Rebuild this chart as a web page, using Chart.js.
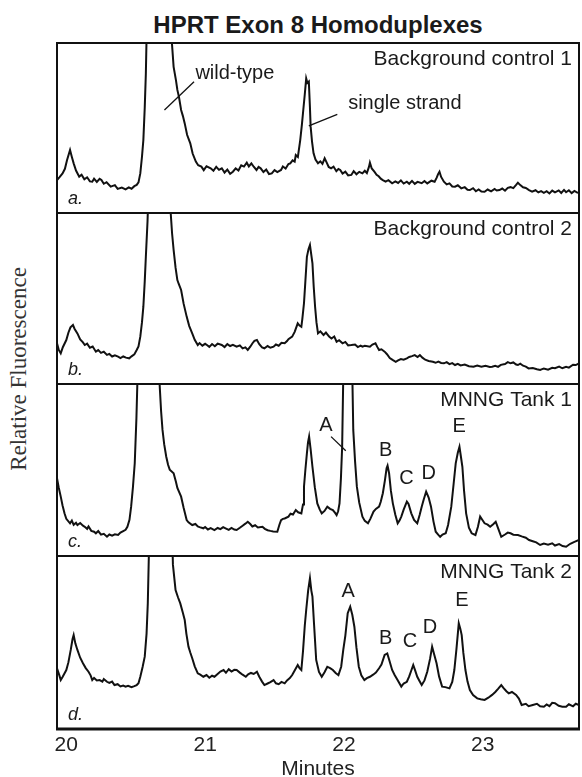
<!DOCTYPE html>
<html>
<head>
<meta charset="utf-8">
<title>HPRT Exon 8 Homoduplexes</title>
<script src="https://cdn.jsdelivr.net/npm/chart.js@4.4.1/dist/chart.umd.min.js"></script>
<style>
  body { margin: 0; background: #fff; }
  #wrap { position: relative; width: 582px; height: 777px; overflow: hidden; background: #fff;
          font-family: "Liberation Sans", Arial, sans-serif; color: #1a1a1a; }
  #title { position: absolute; left: 57px; width: 522px; top: 11px; line-height: 28px;
           text-align: center; font-weight: bold; font-size: 24px; }
  #ylab { position: absolute; left: 19px; top: 369px; transform: translate(-50%, -50%) rotate(-90deg);
          font-family: "Liberation Serif", "Times New Roman", serif; font-size: 23px; white-space: nowrap; color: #333; }
  .panel { position: absolute; left: 0; }
</style>
</head>
<body>
<div id="wrap">
  <div id="title">HPRT Exon 8 Homoduplexes</div>
  <div id="ylab">Relative Fluorescence</div>
  <canvas id="pa" class="panel" width="582" height="174" style="top:41px"></canvas>
  <canvas id="pb" class="panel" width="582" height="175" style="top:211px"></canvas>
  <canvas id="pc" class="panel" width="582" height="176" style="top:382px"></canvas>
  <canvas id="pd" class="panel" width="582" height="228" style="top:554px"></canvas>
</div>
<script>
// electropherogram traces (minutes, relative signal 0-100 = panel height)

const xTicks = [20, 21, 22, 23];
const xMin = 19.933, xMax = 23.693;

const panelTitles = ["Background control 1", "Background control 2", "MNNG Tank 1", "MNNG Tank 2"];
const panelLetters = ["a.", "b.", "c.", "d."];

// a. background control 1
const timeA = [19.933,19.95,19.973,19.99,20.005,20.027,20.04,20.053,20.07,20.093,20.11,20.13,20.15,20.17,20.187,20.2,20.22,20.24,20.253,20.27,20.29,20.32,20.35,20.37,20.4,20.427,20.45,20.47,20.49,20.507,20.52,20.533,20.545,20.555,20.565,20.573,20.587,20.67,20.745,20.752,20.773,20.79,20.8,20.812,20.827,20.84,20.853,20.87,20.893,20.91,20.933,20.95,20.973,20.99,21.01,21.04,21.06,21.08,21.1,21.12,21.14,21.16,21.18,21.2,21.22,21.24,21.26,21.28,21.3,21.315,21.333,21.35,21.37,21.385,21.4,21.42,21.44,21.46,21.48,21.5,21.52,21.547,21.56,21.58,21.6,21.613,21.63,21.645,21.653,21.668,21.685,21.697,21.707,21.718,21.728,21.737,21.747,21.755,21.76,21.77,21.781,21.795,21.813,21.83,21.845,21.861,21.875,21.89,21.907,21.925,21.945,21.96,21.973,21.99,22.01,22.03,22.053,22.07,22.09,22.11,22.133,22.15,22.165,22.18,22.187,22.2,22.219,22.235,22.25,22.265,22.28,22.3,22.32,22.347,22.37,22.39,22.41,22.43,22.453,22.47,22.49,22.51,22.53,22.56,22.58,22.6,22.63,22.653,22.668,22.678,22.688,22.7,22.72,22.74,22.76,22.78,22.8,22.82,22.845,22.87,22.89,22.907,22.93,22.95,22.97,22.99,23.013,23.035,23.06,23.085,23.1,23.12,23.14,23.16,23.18,23.2,23.22,23.24,23.253,23.27,23.29,23.31,23.333,23.355,23.38,23.4,23.42,23.44,23.46,23.48,23.5,23.52,23.547,23.565,23.585,23.6,23.62,23.64,23.66,23.68,23.693];
const fluorA = [19.4,21,23.3,26,31,37.1,33,29.2,25,21.4,22.5,19.8,21,18.6,18.4,20.2,18.3,20.1,19.4,17.2,18.1,15.5,16.4,14.2,15,13.9,15.1,14.3,15.8,16.5,18,23.3,33,42.9,62,82,140,300,140,110,86,78,72.4,68,60.6,57,52.7,46,41,35,30.2,28.1,27.3,25.2,27.5,26.3,24.8,27.2,25.4,26.3,23.8,25.5,23.1,24.3,26.2,25,28.1,27.3,29.6,27.4,29.2,27.2,25.3,27.1,26.3,24.1,25.6,22.9,23.3,25.2,24.1,25.3,27.4,26.2,28.8,29.2,31,30.2,34.1,33,42.9,52,60.6,70,79.2,76.5,77.3,62,50.8,42,35.1,31.5,29.2,30.4,28.9,32.2,29.8,27.1,26.3,27.3,24.6,25.9,25.3,23.2,24.3,22.1,22.4,24.6,22.8,24.2,23.3,24.8,23.5,27.1,29.6,26.2,24.3,22.5,21.6,20.2,19.4,18.5,19.3,17.5,18.6,17.7,19.2,17.3,18.4,17.2,18.9,17.1,18.3,17.5,18.8,17.4,19,18.4,20.8,22.9,24.3,21.2,18.4,16.8,17.4,15.6,15.5,16.3,14.5,15.2,13.7,13.5,14.6,12.8,13.9,12.6,12.5,13.8,12.7,14.1,13.2,13.5,14.4,13.1,14.8,15.2,14.6,16.5,17.8,16.4,15.1,14.7,13.5,12.6,13.4,12.1,12.9,11.9,12.8,11.5,13.2,12.1,13.3,11.8,13.6,12.2,13.4,11.7,13,12,11.9];

// b. background control 2
const timeB = [19.933,19.945,19.96,19.975,20,20.015,20.03,20.048,20.06,20.08,20.1,20.12,20.133,20.15,20.17,20.19,20.213,20.23,20.25,20.27,20.293,20.31,20.33,20.35,20.373,20.39,20.41,20.43,20.453,20.47,20.49,20.507,20.52,20.533,20.545,20.555,20.565,20.573,20.585,20.595,20.67,20.74,20.752,20.762,20.773,20.787,20.8,20.81,20.827,20.845,20.867,20.885,20.907,20.925,20.947,20.96,20.98,21,21.013,21.03,21.05,21.07,21.09,21.12,21.14,21.16,21.18,21.2,21.227,21.25,21.27,21.29,21.307,21.325,21.34,21.355,21.373,21.39,21.41,21.427,21.45,21.47,21.493,21.51,21.53,21.55,21.573,21.59,21.6,21.627,21.645,21.667,21.68,21.693,21.7,21.712,21.722,21.733,21.745,21.755,21.764,21.773,21.782,21.792,21.802,21.813,21.83,21.853,21.87,21.893,21.91,21.93,21.947,21.965,21.99,22.01,22.03,22.053,22.08,22.1,22.12,22.133,22.15,22.187,22.205,22.227,22.24,22.253,22.27,22.293,22.31,22.33,22.35,22.373,22.39,22.41,22.43,22.453,22.47,22.49,22.51,22.53,22.547,22.565,22.585,22.61,22.64,22.66,22.68,22.7,22.72,22.74,22.76,22.78,22.8,22.82,22.84,22.87,22.9,22.933,22.96,22.99,23.02,23.05,23.067,23.09,23.11,23.13,23.16,23.18,23.2,23.22,23.24,23.253,23.27,23.29,23.31,23.33,23.36,23.39,23.413,23.44,23.47,23.5,23.52,23.55,23.573,23.6,23.62,23.65,23.67,23.693];
const fluorB = [23.8,20.1,17.9,21.5,25.7,30,33.1,34.5,32.2,29.6,26.1,24.3,22.8,23.6,21.2,21.9,18.9,19.8,18.2,18.9,17,17.6,16.1,16.8,16,15.2,16.1,15.4,15,16.2,17.3,19.9,22,27.7,36,45.2,60,74.4,95,120,300,130,100,88,78.4,68,60.8,58.5,55,47,39.4,34,29.6,25.8,22.8,23.9,22.4,23.5,22.8,21.7,23.4,22.1,23.6,22.8,21.6,23.3,22.2,22.9,21.8,22.6,20.8,21.4,19.9,21.8,23.7,25.2,25.7,23.3,21.4,20.9,22.2,21.2,21.8,23.1,22.4,24.1,23.8,25.1,26.2,27.7,30.5,35.5,34.2,33.5,38,47.2,60,74.4,79,81.3,76,70.6,57,45.2,36,29.6,30.8,28.7,30.1,27.7,26.6,27.8,24.7,25.6,23.8,24.6,22.6,22.8,23.1,21.6,22.4,21.8,22.3,21.8,23.1,23.8,21.7,19.9,20.3,18.9,17.4,15.2,14.1,13,13.8,14.6,14.2,15,15.8,16.3,16.9,15.8,16.9,15.4,14.2,13.5,13,12.4,13.1,12.3,12.1,12.8,11.6,12.2,11.1,11.8,10.9,11.4,10.4,10.1,10.8,10.1,10.6,9.9,10.1,10.6,10,11.2,11.7,12.8,12.1,12.6,11.4,11.1,11.9,10.7,10.2,9.1,9.4,8.6,8.2,9.1,8.4,9.5,9.2,10.2,9.2,10.1,9.6,11.3,11.1,12.1];

// c. MNNG tank 1
const timeC = [19.933,19.945,19.96,19.973,19.987,20,20.027,20.04,20.053,20.07,20.08,20.1,20.12,20.133,20.15,20.16,20.18,20.2,20.213,20.23,20.25,20.27,20.293,20.31,20.33,20.35,20.373,20.39,20.41,20.427,20.44,20.455,20.467,20.48,20.493,20.505,20.515,20.62,20.665,20.672,20.683,20.693,20.705,20.72,20.733,20.745,20.773,20.79,20.8,20.827,20.845,20.867,20.88,20.907,20.93,20.947,20.96,20.987,21,21.02,21.04,21.067,21.09,21.11,21.13,21.147,21.17,21.19,21.21,21.227,21.25,21.27,21.29,21.307,21.325,21.34,21.36,21.38,21.413,21.43,21.45,21.47,21.49,21.52,21.535,21.547,21.56,21.573,21.6,21.615,21.633,21.653,21.67,21.693,21.705,21.712,21.722,21.733,21.741,21.749,21.76,21.773,21.79,21.808,21.825,21.84,21.86,21.88,21.9,21.92,21.935,21.947,21.958,21.968,21.978,21.987,22,22.04,22.055,22.067,22.08,22.093,22.11,22.133,22.15,22.173,22.19,22.213,22.23,22.253,22.265,22.28,22.295,22.307,22.314,22.325,22.338,22.352,22.37,22.387,22.4,22.413,22.43,22.453,22.465,22.485,22.505,22.528,22.545,22.56,22.575,22.592,22.61,22.627,22.645,22.661,22.68,22.693,22.71,22.733,22.75,22.773,22.79,22.805,22.82,22.832,22.842,22.853,22.865,22.88,22.9,22.92,22.947,22.965,22.981,22.995,23.013,23.035,23.053,23.075,23.093,23.11,23.133,23.16,23.18,23.2,23.22,23.253,23.28,23.31,23.333,23.36,23.385,23.413,23.44,23.47,23.5,23.52,23.55,23.575,23.6,23.63,23.66,23.693];
const fluorC = [45.2,40,34.5,29.4,24.8,21.6,19,20.6,18.1,19.3,18,19.2,17.6,17,15.8,17.2,14.6,14.1,13.2,14.5,12.4,12.9,11.2,12.5,11.8,12.6,12.2,13.6,14.5,15.2,17,21,28.7,40,53.9,80,110,300,120,100,84,73.3,65,57.7,53,50.2,48.1,43,39.6,34.5,28,20.9,19.6,18,18.6,17.2,16.8,16.1,16.9,15.4,16.2,15.1,16.3,15.6,16.8,16.1,15.2,16.3,15.4,15.1,16.4,17.6,18.8,19.9,18.6,17.2,17.9,16.6,17,15.8,15,14.6,14.3,14.1,18.2,20.9,21.6,21.8,22.9,24.6,24.1,26.7,25.4,24.8,30,40.3,50,59.7,66,69.4,62,51.9,40,30.6,27.1,24.8,26.2,28.7,27.4,26.7,25.2,23.8,26,30.6,45,63.5,130,300,130,73.3,55,40.3,31,22.9,20.4,19,21.6,25.8,27.4,28.7,31.5,36.5,44,51,52.5,48.1,38,30.6,24,19,20.6,22.9,27,31.6,30.2,24.8,21,19,23.8,28.7,33,37.4,34,28.7,20,14.1,12.3,11.2,12.5,13.2,18,28.7,42,53.9,60,63.5,58,51.9,38,24.8,16.5,13.2,12.2,17,22.9,21.2,19,18.2,17,18.5,19.9,16.2,11.2,12.5,13.6,13.2,12.4,12.2,11.4,10.6,9.3,8.6,7.9,6.4,7.2,6.6,7.4,6.1,6.9,5.8,5.4,7.1,8.2,9.3];

// d. MNNG tank 2
const timeD = [19.933,19.95,19.96,19.973,20,20.015,20.032,20.045,20.053,20.065,20.08,20.1,20.12,20.14,20.16,20.175,20.187,20.2,20.22,20.24,20.26,20.27,20.293,20.31,20.33,20.347,20.37,20.39,20.41,20.427,20.445,20.47,20.49,20.507,20.52,20.533,20.55,20.565,20.578,20.587,20.6,20.68,20.76,20.768,20.787,20.805,20.821,20.84,20.853,20.865,20.88,20.893,20.907,20.925,20.947,20.965,20.987,21.01,21.03,21.05,21.067,21.09,21.11,21.133,21.15,21.17,21.19,21.21,21.227,21.25,21.27,21.293,21.31,21.33,21.35,21.373,21.39,21.41,21.427,21.45,21.47,21.493,21.51,21.53,21.55,21.573,21.59,21.61,21.627,21.645,21.667,21.68,21.693,21.705,21.718,21.728,21.742,21.755,21.765,21.773,21.785,21.8,21.82,21.84,21.86,21.88,21.9,21.92,21.94,21.96,21.98,21.995,22.01,22.027,22.045,22.06,22.075,22.09,22.107,22.125,22.147,22.165,22.187,22.21,22.23,22.253,22.27,22.293,22.312,22.325,22.347,22.365,22.385,22.413,22.43,22.453,22.47,22.485,22.499,22.512,22.528,22.545,22.56,22.58,22.6,22.62,22.635,22.65,22.667,22.685,22.707,22.73,22.76,22.78,22.795,22.81,22.827,22.838,22.848,22.86,22.875,22.89,22.907,22.93,22.96,22.985,23.013,23.04,23.067,23.09,23.11,23.133,23.15,23.17,23.187,23.21,23.24,23.26,23.28,23.31,23.33,23.36,23.39,23.413,23.44,23.46,23.48,23.5,23.52,23.547,23.573,23.6,23.62,23.65,23.67,23.693];
const fluorD = [35.1,31,28.3,30.1,34.1,38.5,45.7,52,54.3,49.5,45.7,41.2,38,35.2,33.1,31,28.3,29.5,28.1,28.3,27.4,28.9,27.3,26.6,27.4,25.4,25.9,24.6,25.1,24.5,25,24.2,24.8,25.4,26.4,30.2,36,41.8,55,72.6,120,300,120,95,80.3,76,72.6,67,63,55,47.6,44.2,40.9,36.2,32.2,31.4,30.2,31.2,29.6,30.8,30.2,31.8,33.2,34.1,32.5,34.6,33.2,34.2,34.1,32.6,31.4,30.2,31.6,32.4,31.8,33.1,30.2,27.4,25.4,26.3,27.1,28.3,26.4,25.9,27.2,26.4,28.1,29.4,31.2,33.8,37,35.2,34.1,45,60,68.8,80,87.1,80,76.5,60,39.9,33,30.2,32.8,36,35.2,34.1,32.4,31.2,36,45.7,54,66.9,70.7,66,59.1,47,36,31,28.3,29.4,30.2,31.4,32.6,35.1,37.2,42.8,43.7,40.2,34.1,31.2,28.4,24.5,26.3,27.3,30.4,33.8,37,34,30.2,27.6,25.4,28.1,33.1,40.5,47.6,43,38,30.4,24.5,24.2,23.5,27.2,34.1,46,61.1,58,54.3,44,34.1,27.4,22.5,19.6,17.7,17.2,16.8,18.1,19.7,21.4,23.2,25.4,23.6,21.8,20.6,21.4,19.7,17.6,13.9,14.6,13.2,13.9,14.6,13.1,12.9,14.2,13.2,15.1,14.9,13.4,12.9,12.9,14.3,13.1,14.6,13.9];

// peak labels and leader lines for each panel (data coordinates)
const panelNotes = [
  { texts: [{ x: 20.93, y: 82, t: "wild-type" }, { x: 22.03, y: 64.5, t: "single strand" }],
    lines: [[20.707, 60.6, 20.92, 77.2], [21.747, 51.2, 21.952, 58]] },
  { texts: [], lines: [] },
  { texts: [{ x: 21.87, y: 76, t: "A" }, { x: 22.30, y: 61.6, t: "B" }, { x: 22.45, y: 45.2, t: "C" },
            { x: 22.61, y: 48.1, t: "D" }, { x: 22.83, y: 75.2, t: "E" }],
    lines: [[21.907, 69.4, 22.013, 61.2]] },
  { texts: [{ x: 22.03, y: 79.4, t: "A" }, { x: 22.30, y: 52.4, t: "B" }, { x: 22.475, y: 50.5, t: "C" },
            { x: 22.62, y: 58.8, t: "D" }, { x: 22.85, y: 74.2, t: "E" }],
    lines: [] }
];

const sans = '"Liberation Sans", Arial, sans-serif';

const panelDeco = {
  id: "panelDeco",
  afterDatasetsDraw(chart, args, opts) {
    const { ctx, chartArea: a, scales } = chart;
    const xs = scales.x, ys = scales.y;
    ctx.save();
    ctx.strokeStyle = "#111";
    ctx.lineWidth = 2;
    ctx.strokeRect(a.left, a.top, a.right - a.left, a.bottom - a.top);
    if (opts.bottom) {
      // heavier base line under the last panel
      ctx.lineWidth = 3;
      ctx.beginPath();
      ctx.moveTo(a.left - 1, a.bottom);
      ctx.lineTo(a.right + 1, a.bottom);
      ctx.stroke();
    }

    ctx.fillStyle = "#1a1a1a";
    ctx.font = "21px " + sans;
    ctx.textAlign = "right";
    ctx.textBaseline = "middle";
    ctx.fillText(opts.title, a.right - 7, a.top + 16);

    ctx.font = "italic 18px " + sans;
    ctx.textAlign = "left";
    ctx.textBaseline = "alphabetic";
    ctx.fillText(opts.letter, a.left + 11, a.bottom - 9);

    const note = opts.note;
    ctx.font = "20px " + sans;
    note.texts.forEach(n => {
      ctx.textAlign = n.t.length > 1 ? "left" : "center";
      ctx.textBaseline = "middle";
      ctx.fillText(n.t, xs.getPixelForValue(n.x), ys.getPixelForValue(n.y));
    });
    ctx.lineWidth = 1.3;
    note.lines.forEach(l => {
      ctx.beginPath();
      ctx.moveTo(xs.getPixelForValue(l[0]), ys.getPixelForValue(l[1]));
      ctx.lineTo(xs.getPixelForValue(l[2]), ys.getPixelForValue(l[3]));
      ctx.stroke();
    });
    ctx.restore();
  }
};

function makePanel(id, times, values, idx, isBottom) {
  const points = times.map((t, i) => ({ x: t, y: values[i] }));
  const xAxis = {
    type: "linear", min: xMin, max: xMax, display: isBottom,
    grid: { display: false, drawTicks: false },
    border: { display: false },
    afterBuildTicks: s => { s.ticks = xTicks.map(v => ({ value: v })); },
    ticks: { font: { size: 21, family: sans }, color: "#222", padding: 4, maxRotation: 0 },
    title: { display: true, text: "Minutes", font: { size: 21, family: sans }, color: "#222",
             padding: { top: 0, bottom: 0 } }
  };
  if (isBottom) xAxis.afterFit = s => { s.height = 53; };
  return new Chart(document.getElementById(id), {
    type: "line",
    data: { datasets: [{ data: points, borderColor: "#111", borderWidth: 2,
                         pointRadius: 0, fill: false, tension: 0 }] },
    options: {
      responsive: false,
      animation: false,
      events: [],
      layout: { padding: { left: 57, right: 3, top: 2, bottom: isBottom ? 0 : 2 } },
      plugins: {
        legend: { display: false },
        tooltip: { enabled: false },
        panelDeco: { title: panelTitles[idx], letter: panelLetters[idx], note: panelNotes[idx], bottom: isBottom }
      },
      scales: {
        x: xAxis,
        y: { min: 0, max: 100, display: false }
      }
    },
    plugins: [panelDeco]
  });
}

makePanel("pa", timeA, fluorA, 0, false);
makePanel("pb", timeB, fluorB, 1, false);
makePanel("pc", timeC, fluorC, 2, false);
makePanel("pd", timeD, fluorD, 3, true);
</script>
</body>
</html>
